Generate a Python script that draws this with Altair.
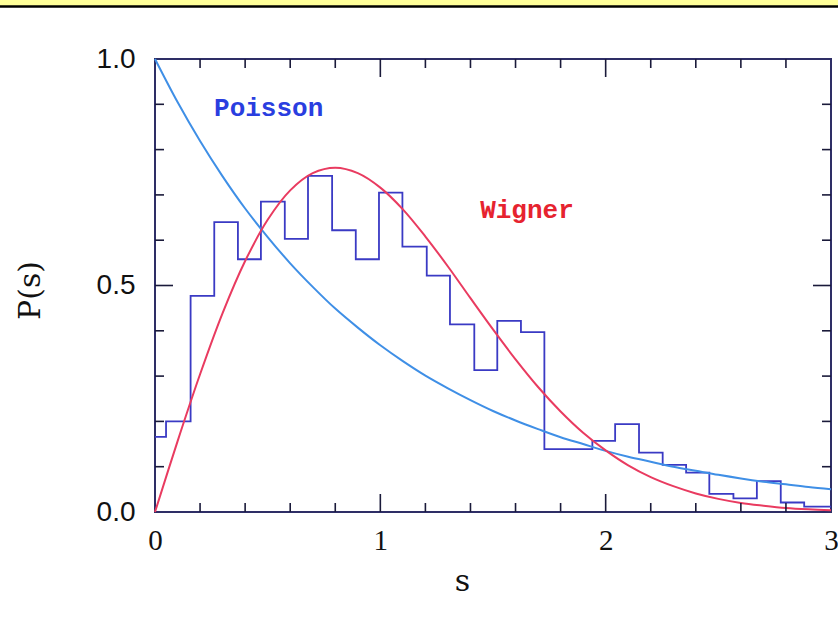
import altair as alt
import pandas as pd

# Histogram of level spacings (bin edges and heights)
bin_edges = [0.0, 0.049, 0.158, 0.263, 0.368, 0.470, 0.576, 0.679, 0.786, 0.891,
             0.994, 1.098, 1.206, 1.309, 1.417, 1.519, 1.624, 1.728, 1.833, 1.941,
             2.042, 2.148, 2.253, 2.357, 2.460, 2.567, 2.671, 2.777, 2.881, 3.0]
bin_heights = [0.166, 0.200, 0.477, 0.640, 0.558, 0.685, 0.603, 0.742, 0.622, 0.558,
               0.705, 0.586, 0.522, 0.414, 0.313, 0.422, 0.397, 0.139, 0.139, 0.157,
               0.194, 0.131, 0.104, 0.087, 0.040, 0.030, 0.068, 0.021, 0.012]

# Curves
curve_s = [0.0, 0.1, 0.2, 0.3, 0.4, 0.5, 0.6, 0.7, 0.8, 0.9, 1.0, 1.1, 1.2, 1.3, 1.4, 1.5,
           1.6, 1.7, 1.8, 1.9, 2.0, 2.1, 2.2, 2.3, 2.4, 2.5, 2.6, 2.7, 2.8, 2.9, 3.0]
poisson_p = [1.000, 0.905, 0.819, 0.741, 0.670, 0.607, 0.549, 0.497, 0.449, 0.407, 0.368,
             0.333, 0.301, 0.273, 0.247, 0.223, 0.202, 0.183, 0.165, 0.150, 0.135, 0.122,
             0.111, 0.100, 0.091, 0.082, 0.074, 0.067, 0.061, 0.055, 0.050]
wigner_p = [0.000, 0.156, 0.304, 0.439, 0.554, 0.645, 0.710, 0.748, 0.760, 0.748, 0.716,
            0.668, 0.608, 0.542, 0.472, 0.403, 0.337, 0.276, 0.222, 0.175, 0.136, 0.103,
            0.077, 0.057, 0.041, 0.029, 0.020, 0.014, 0.009, 0.006, 0.004]

# Tick marks
x_tick_labels = [0, 1, 2, 3]
y_tick_labels = [0.0, 0.5, 1.0]
x_minor_ticks = [0.2, 0.4, 0.6, 0.8, 1.2, 1.4, 1.6, 1.8, 2.2, 2.4, 2.6, 2.8]
x_major_ticks = [1, 2]
y_minor_ticks = [0.1, 0.2, 0.3, 0.4, 0.6, 0.7, 0.8, 0.9]
y_major_ticks = [0.5]

W, H = 676, 453

hist_df = pd.DataFrame({"s": bin_edges, "p": bin_heights + [bin_heights[-1]]})
curve_df = pd.DataFrame({"s": curve_s, "poisson": poisson_p, "wigner": wigner_p})
one = pd.DataFrame({"a": [0]})

xscale = alt.Scale(domain=[0, 3], nice=False, zero=False)
yscale = alt.Scale(domain=[0, 1], nice=False)

xaxis = alt.Axis(values=x_tick_labels, format="d", ticks=False, domain=False, grid=False,
                 labelFlush=False, labelOverlap=False,
                 labelFont="Liberation Serif", labelFontSize=29, labelColor="#111111",
                 labelPadding=14, title="s", titleFont="DejaVu Serif", titleFontSize=30,
                 titleFontWeight="normal", titleColor="#111111", titleX=307, titleY=78,
                 titleBaseline="alphabetic", titleAlign="center")
yaxis = alt.Axis(values=y_tick_labels, format=".1f", ticks=False, domain=False, grid=False,
                 labelFlush=False, labelOverlap=False,
                 labelFont="Liberation Sans", labelFontSize=28, labelColor="#111111",
                 labelPadding=20, title="P(s)", titleFont="DejaVu Serif", titleFontSize=30,
                 titleFontWeight="normal", titleColor="#111111", titleX=-125, titleY=231,
                 titleBaseline="middle", titleAlign="center", titleAngle=-90)

hist = alt.Chart(hist_df).mark_line(interpolate="step-after", color="#3a3ac4",
                                    strokeWidth=1.8).encode(
    x=alt.X("s:Q", scale=xscale, axis=xaxis),
    y=alt.Y("p:Q", scale=yscale, axis=yaxis),
)

poisson = alt.Chart(curve_df).mark_line(interpolate="catmull-rom", color="#3f8fe6",
                                        strokeWidth=2).encode(
    x=alt.X("s:Q", scale=xscale), y=alt.Y("poisson:Q", scale=yscale))
wigner = alt.Chart(curve_df).mark_line(interpolate="catmull-rom", color="#e93b60",
                                       strokeWidth=2).encode(
    x=alt.X("s:Q", scale=xscale), y=alt.Y("wigner:Q", scale=yscale))

txt_poisson = alt.Chart(one).mark_text(text="Poisson", font="Liberation Mono", fontSize=26,
                                       fontWeight="bold", color="#2a3ee0", align="left",
                                       baseline="alphabetic").encode(
    x=alt.datum(0.262, scale=xscale), y=alt.datum(0.874, scale=yscale))
txt_wigner = alt.Chart(one).mark_text(text="Wigner", font="Liberation Mono", fontSize=26,
                                      fontWeight="bold", color="#e6232f", align="left",
                                      baseline="alphabetic").encode(
    x=alt.datum(1.443, scale=xscale), y=alt.datum(0.648, scale=yscale))

tick_color = "#1a1a3a"


def xticks(vals, length):
    d = pd.DataFrame({"t": vals})
    bottom = alt.Chart(d).mark_rule(color=tick_color, strokeWidth=1.6).encode(
        x=alt.X("t:Q", scale=xscale), y=alt.value(H), y2=alt.value(H - length))
    top = alt.Chart(d).mark_rule(color=tick_color, strokeWidth=1.6).encode(
        x=alt.X("t:Q", scale=xscale), y=alt.value(0), y2=alt.value(length))
    return [bottom, top]


def yticks(vals, length):
    d = pd.DataFrame({"t": vals})
    left = alt.Chart(d).mark_rule(color=tick_color, strokeWidth=1.6).encode(
        y=alt.Y("t:Q", scale=yscale), x=alt.value(0), x2=alt.value(length))
    right = alt.Chart(d).mark_rule(color=tick_color, strokeWidth=1.6).encode(
        y=alt.Y("t:Q", scale=yscale), x=alt.value(W), x2=alt.value(W - length))
    return [left, right]


ticks = (xticks(x_minor_ticks, 9) + xticks(x_major_ticks, 18)
         + yticks(y_minor_ticks, 9) + yticks(y_major_ticks, 18))

band = alt.Chart(one).mark_rect(color="#ffff99").encode(
    x=alt.value(-155), x2=alt.value(W + 7), y=alt.value(-59), y2=alt.value(-53))
band_line = alt.Chart(one).mark_rule(color="#000000", strokeWidth=2.5).encode(
    x=alt.value(-155), x2=alt.value(W + 7), y=alt.value(-52.5))

chart = alt.layer(band, band_line, hist, poisson, wigner, *ticks, txt_poisson, txt_wigner).properties(
    width=W, height=H,
    autosize=alt.AutoSizeParams(type="none"),
    padding={"left": 155, "top": 59, "right": 7, "bottom": 125},
    background="white",
).configure_view(stroke="#2e2e66", strokeWidth=2)

chart.save("out.html", embed_options={"renderer": "svg", "actions": False})
